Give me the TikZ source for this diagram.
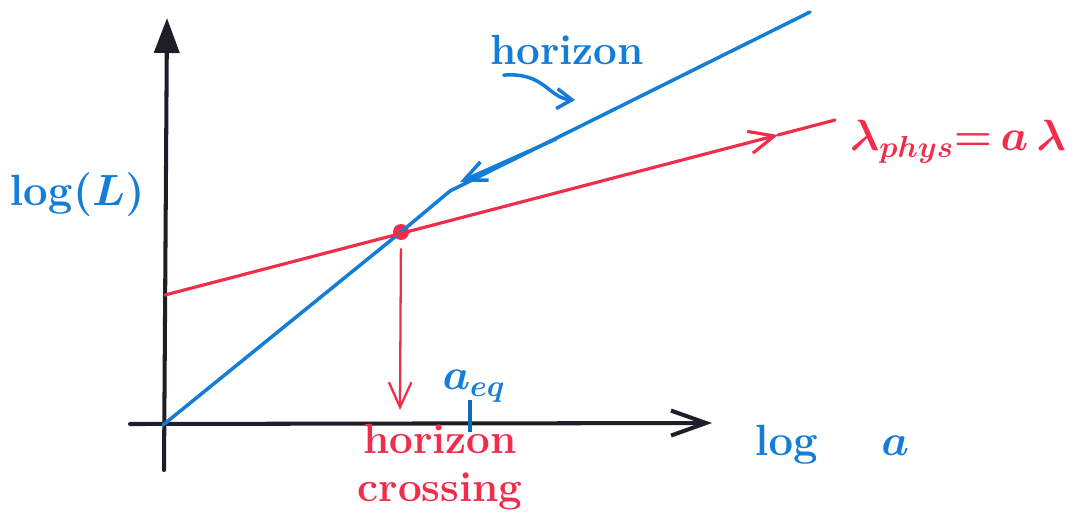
\documentclass[tikz,border=0pt]{standalone}
\usepackage{amsmath}
\usetikzlibrary{arrows.meta,positioning}
\definecolor{penblue}{RGB}{20,125,215}
\definecolor{penred}{RGB}{240,45,75}
\definecolor{penblack}{RGB}{30,30,40}

\begin{document}
\begin{tikzpicture}[x=0.02cm, y=-0.02cm, >={Straight Barb[length=5mm,width=4.5mm]},
  every node/.style={inner sep=0pt},
  axis/.style={line width=2.3pt, penblack, line cap=round},
  blueline/.style={line width=2pt, penblue, line cap=round},
  redline/.style={line width=1.8pt, penred, line cap=round},
  bluelabel/.style={text=penblue, font=\fontsize{24}{28}\selectfont\bfseries\boldmath},
  redlabel/.style={text=penred, align=center, font=\fontsize{24}{27}\selectfont\bfseries\boldmath}]

\useasboundingbox (0,0) rectangle (1081,517);

% axes
\coordinate (yfoot) at (164,470);
\coordinate (ytop) at (167,18);
\coordinate (xstart) at (130,424);
\coordinate (xtip) at (712,423);
\draw[axis, -{Triangle[length=7mm,width=5mm]}] (yfoot) -- (ytop);
\draw[axis, ->, >={Straight Barb[length=7mm,width=5mm]}] (xstart) -- (xtip);

% crossing point
\node[circle, fill=penred, minimum size=0.32cm] (cross) at (401,232) {};

% horizon (blue)
\coordinate (bluefoot) at (163,425);
\coordinate (bend) at (450,191);
\coordinate (blueend) at (810,12);
\draw[blueline] (bluefoot) -- (cross.center) -- (bend) -- (blueend);
\coordinate (hzback) at (556,139);
\coordinate (hztip) at (460,182);
\draw[blueline, ->, >={Straight Barb[length=4.5mm,width=4mm]}] (hzback) -- (hztip);

% physical wavelength (red)
\coordinate (redfoot) at (165,295);
\coordinate (redtip) at (778,135);
\coordinate (redend) at (835,120);
\draw[redline, ->] (redfoot) -- (redtip);
\draw[redline] (redtip) -- (redend);
\coordinate (dropfoot) at (400,410);
\draw[redline, line width=1.3pt, ->, shorten <=5pt] (cross) -- (dropfoot);

% a_eq tick
\coordinate (eqtick) at (470,424);
\draw[line width=2.6pt, penblue!85!black] (eqtick) ++(0,-24) -- ++(0,32);

% labels
\node[bluelabel, font=\fontsize{31}{36}\selectfont\boldmath] (logL) at (77,195) {$\log(L)$};
\node[bluelabel, font=\fontsize{31}{36}\selectfont\boldmath] (loga) at (832,445) {$\log\quad a$};
\node[redlabel, font=\fontsize{25}{30}\selectfont\boldmath] (lphys) at (958,142) {$\lambda_{phys}{=}\,a\,\lambda$};
\node[bluelabel] (aeq) at (474,386) {$a_{eq}$};
\node[bluelabel] (horizon) at (567,50) {horizon};
\node[redlabel] (crossing) at (440,467) {horizon\\crossing};

% pointer to horizon line
\coordinate (hzpoint) at (575,100);
\draw[blueline, ->, >={Straight Barb[length=3mm,width=4mm]}] (horizon.south west) ++(14,10) .. controls (545,72) and (548,98) .. (hzpoint);

\end{tikzpicture}
\end{document}
